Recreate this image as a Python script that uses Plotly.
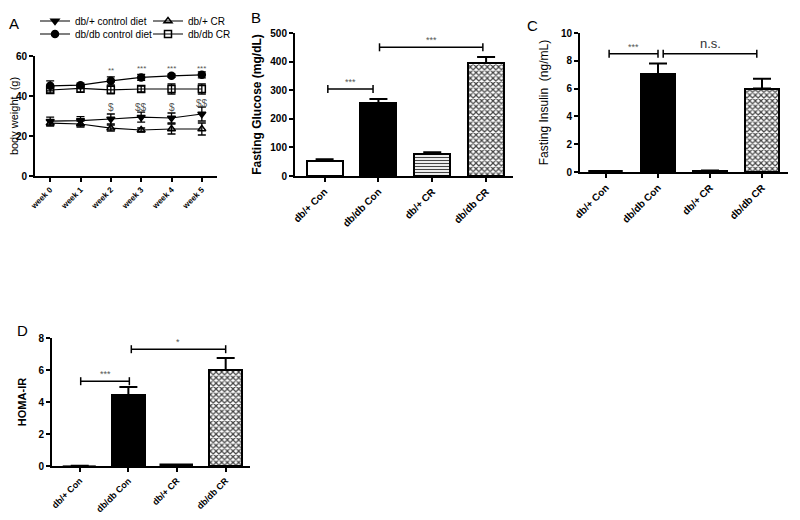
import plotly.graph_objects as go

FONT = "Liberation Sans, Arial, sans-serif"

# ---------------- Panel A data (body weight, g) ----------------
weeks = ["week 0", "week 1", "week 2", "week 3", "week 4", "week 5"]
week_idx = [0, 1, 2, 3, 4, 5]
dbp_con = [27.4, 27.7, 28.5, 29.4, 29.0, 31.0]
dbp_con_err = [2.0, 2.0, 2.5, 2.5, 2.5, 3.5]
dbdb_con = [45.1, 45.4, 47.6, 49.3, 50.1, 50.6]
dbdb_con_err = [2.5, 1.0, 2.0, 1.5, 0.8, 1.5]
dbp_cr = [26.4, 26.0, 23.9, 23.0, 23.5, 23.5]
dbp_cr_err = [1.5, 1.5, 1.5, 1.0, 2.5, 3.0]
dbdb_cr = [43.0, 43.8, 43.1, 43.5, 43.5, 43.5]
dbdb_cr_err = [1.5, 2.0, 2.0, 1.5, 2.5, 2.5]

star_text = ["", "", "**", "***", "***", "***"]
star_y = [0, 0, 53.0, 54.0, 54.0, 54.0]
dollar_text = ["", "", "&#36;", "&#36;&#36;", "&#36;", "&#36;&#36;"]
dollar_y = [0, 0, 34.5, 34.5, 34.5, 36.5]

# ---------------- Bar panels ----------------
groups = ["db/+ Con", "db/db Con", "db/+ CR", "db/db CR"]
glucose = [53, 255, 78, 395]
glucose_err = [6, 14, 5, 21]
insulin = [0.04, 7.05, 0.1, 6.0]
insulin_err = [None, 0.75, None, 0.7]
homa = [0.02, 4.44, 0.05, 6.0]
homa_err = [None, 0.5, None, 0.75]

glucose_sig = [(0.06, 0.9, 304, "***"), (1.02, 2.94, 450, "***")]
insulin_sig = [(0.06, 1.0, 8.5, "***"), (1.1, 2.9, 8.5, "n.s.")]
homa_sig = [(0.02, 1.02, 5.3, "***"), (1.06, 3.0, 7.3, "*")]

bar_colors = ["white", "black", "white", "white"]
bar_patterns = ["", "", "-", "x"]

# page is shown with the browser's 8px body margin: map page pixels to paper fractions
W, H, OFF = 792, 512, 8
def fx(p):
    return (p - OFF) / W
def fy(p):
    return 1 - (p - OFF) / H

fig = go.Figure()

# Panel A lines
series = [
    ("db/+ control diet", dbp_con, dbp_con_err, "triangle-down", "black", "legend"),
    ("db/+ CR", dbp_cr, dbp_cr_err, "triangle-up-open", "black", "legend"),
    ("db/db control diet", dbdb_con, dbdb_con_err, "circle", "black", "legend2"),
    ("db/db CR", dbdb_cr, dbdb_cr_err, "square-open", "black", "legend2"),
]
for name, vals, errs, sym, col, lg in series:
    fig.add_trace(go.Scatter(
        x=week_idx, y=vals, name=name, mode="lines+markers",
        line=dict(color="black", width=1.2),
        marker=dict(symbol=sym, size=7, color=col, line=dict(color="black", width=1.5)),
        error_y=dict(type="data", array=errs, color="black", thickness=1.3, width=4),
        xaxis="x", yaxis="y", legend=lg,
    ))

def bar_trace(vals, errs, xa, ya, lw):
    return go.Bar(
        x=list(range(len(groups))), y=vals, width=0.67, showlegend=False,
        marker=dict(color=bar_colors,
                    line=dict(color="black", width=lw),
                    pattern=dict(shape=bar_patterns, fgcolor="black", bgcolor="white",
                                 fgopacity=1,
                                 size=[4, 4, 3, 4], solidity=[0.3, 0.3, 0.4, 0.5],
                                 fillmode="overlay")),
        error_y=dict(type="data", array=errs, arrayminus=[0] * len(errs), symmetric=False,
                     color="black", thickness=2, width=9),
        xaxis=xa, yaxis=ya,
    )

fig.add_trace(bar_trace(glucose, glucose_err, "x2", "y2", [2, 2, 2, 2]))
fig.add_trace(bar_trace(insulin, insulin_err, "x3", "y3", [1, 2, 2, 2]))
fig.add_trace(bar_trace(homa, homa_err, "x4", "y4", [0.5, 2, 1.5, 2]))

tickfont = dict(family=FONT, size=10, color="black", weight="bold")

def yax(domain, rng, dtick, title, xanchor, tsize=12, tweight="normal", standoff=8):
    return dict(domain=domain, range=rng, dtick=dtick, anchor=xanchor,
                showline=True, linecolor="black", linewidth=2, ticks="outside",
                ticklen=4, tickwidth=1.5, tickcolor="black", showgrid=False, zeroline=False,
                tickfont=tickfont, automargin=False,
                title=dict(text=title, standoff=standoff,
                           font=dict(family=FONT, size=tsize, color="black", weight=tweight)))

def xax(domain, rng, vals, text, yanchor, size=10):
    return dict(domain=domain, range=rng, anchor=yanchor, tickvals=vals, ticktext=text,
                tickangle=-45, showline=True, linecolor="black", linewidth=2,
                ticks="outside", ticklen=4, tickwidth=1.5, tickcolor="black",
                showgrid=False, zeroline=False, automargin=False,
                tickfont=dict(family=FONT, size=size, color="black", weight="bold"))

cat_idx = list(range(len(groups)))
fig.update_layout(
    width=W, height=H, margin=dict(l=0, r=0, t=0, b=0, autoexpand=False),
    paper_bgcolor="white", plot_bgcolor="white",
    font=dict(family=FONT, color="black"),
    xaxis=xax([fx(35), fx(217)], [-0.5, 5.5], week_idx, weeks, "y", size=8),
    yaxis=yax([fy(176), fy(56)], [0, 60], 20, "body weight  (g)", "x", tsize=11, standoff=9),
    xaxis2=xax([fx(295), fx(513)], [-0.55, 3.5], cat_idx, groups, "y2"),
    yaxis2=yax([fy(176), fy(33)], [0, 500], 100, "Fasting Glucose (mg/dL)", "x2", tsize=12, tweight="bold", standoff=6),
    xaxis3=xax([fx(580), fx(788)], [-0.5, 3.5], cat_idx, groups, "y3"),
    yaxis3=yax([fy(172), fy(33)], [0, 10], 2, "Fasting Insulin  (ng/mL)", "x3", tsize=12, standoff=10),
    xaxis4=xax([fx(52), fx(250)], [-0.57, 3.5], cat_idx, groups, "y4", size=9),
    yaxis4=yax([fy(466), fy(338)], [0, 8], 2, "HOMA-IR", "x4", tsize=11, tweight="bold", standoff=10),
    legend=dict(orientation="h", x=fx(35), y=fy(21), xanchor="left", yanchor="middle",
                entrywidth=68, bgcolor="rgba(0,0,0,0)", font=dict(family=FONT, size=10),
                itemwidth=30, tracegroupgap=0),
    legend2=dict(orientation="h", x=fx(35), y=fy(34), xanchor="left", yanchor="middle",
                 entrywidth=68, bgcolor="rgba(0,0,0,0)", font=dict(family=FONT, size=10),
                 itemwidth=30, tracegroupgap=0),
    bargap=0,
)

ann = []
# panel letters
for txt, px, py in [("A", 14, 23), ("B", 256, 17), ("C", 532, 25), ("D", 22, 330)]:
    ann.append(dict(text=txt, x=fx(px), y=fy(py), xref="paper", yref="paper",
                    showarrow=False, xanchor="center", yanchor="middle",
                    font=dict(family=FONT, size=15, color="black")))

for i, t in enumerate(star_text):
    if t:
        ann.append(dict(text=t, x=week_idx[i], y=star_y[i], xref="x", yref="y", showarrow=False,
                        font=dict(family=FONT, size=8, color="#555555")))
for i, t in enumerate(dollar_text):
    if t:
        ann.append(dict(text=t, x=week_idx[i], y=dollar_y[i], xref="x", yref="y", showarrow=False,
                        font=dict(family=FONT, size=10, color="#555555")))

shapes = []
for sigs, xr, yr in [(glucose_sig, "x2", "y2"), (insulin_sig, "x3", "y3"), (homa_sig, "x4", "y4")]:
    for x0, x1, lvl, lab in sigs:
        shapes.append(dict(type="line", xref=xr, yref=yr, x0=x0, x1=x1, y0=lvl, y1=lvl,
                           line=dict(color="black", width=1.5)))
        for xe in (x0, x1):
            shapes.append(dict(type="line", xref=xr, yref=yr, x0=xe, x1=xe, ysizemode="pixel",
                               yanchor=lvl, y0=-4, y1=4, line=dict(color="black", width=1.5)))
        big = lab == "n.s."
        ann.append(dict(text=lab, x=(x0 + x1) / 2, y=lvl, xref=xr, yref=yr, showarrow=False,
                        yanchor="bottom", yshift=1 if big else 0,
                        font=dict(family=FONT, size=13 if big else 9,
                                  color="#333333" if big else "#555555")))

fig.update_layout(annotations=ann, shapes=shapes)
fig.write_html("out.html")
